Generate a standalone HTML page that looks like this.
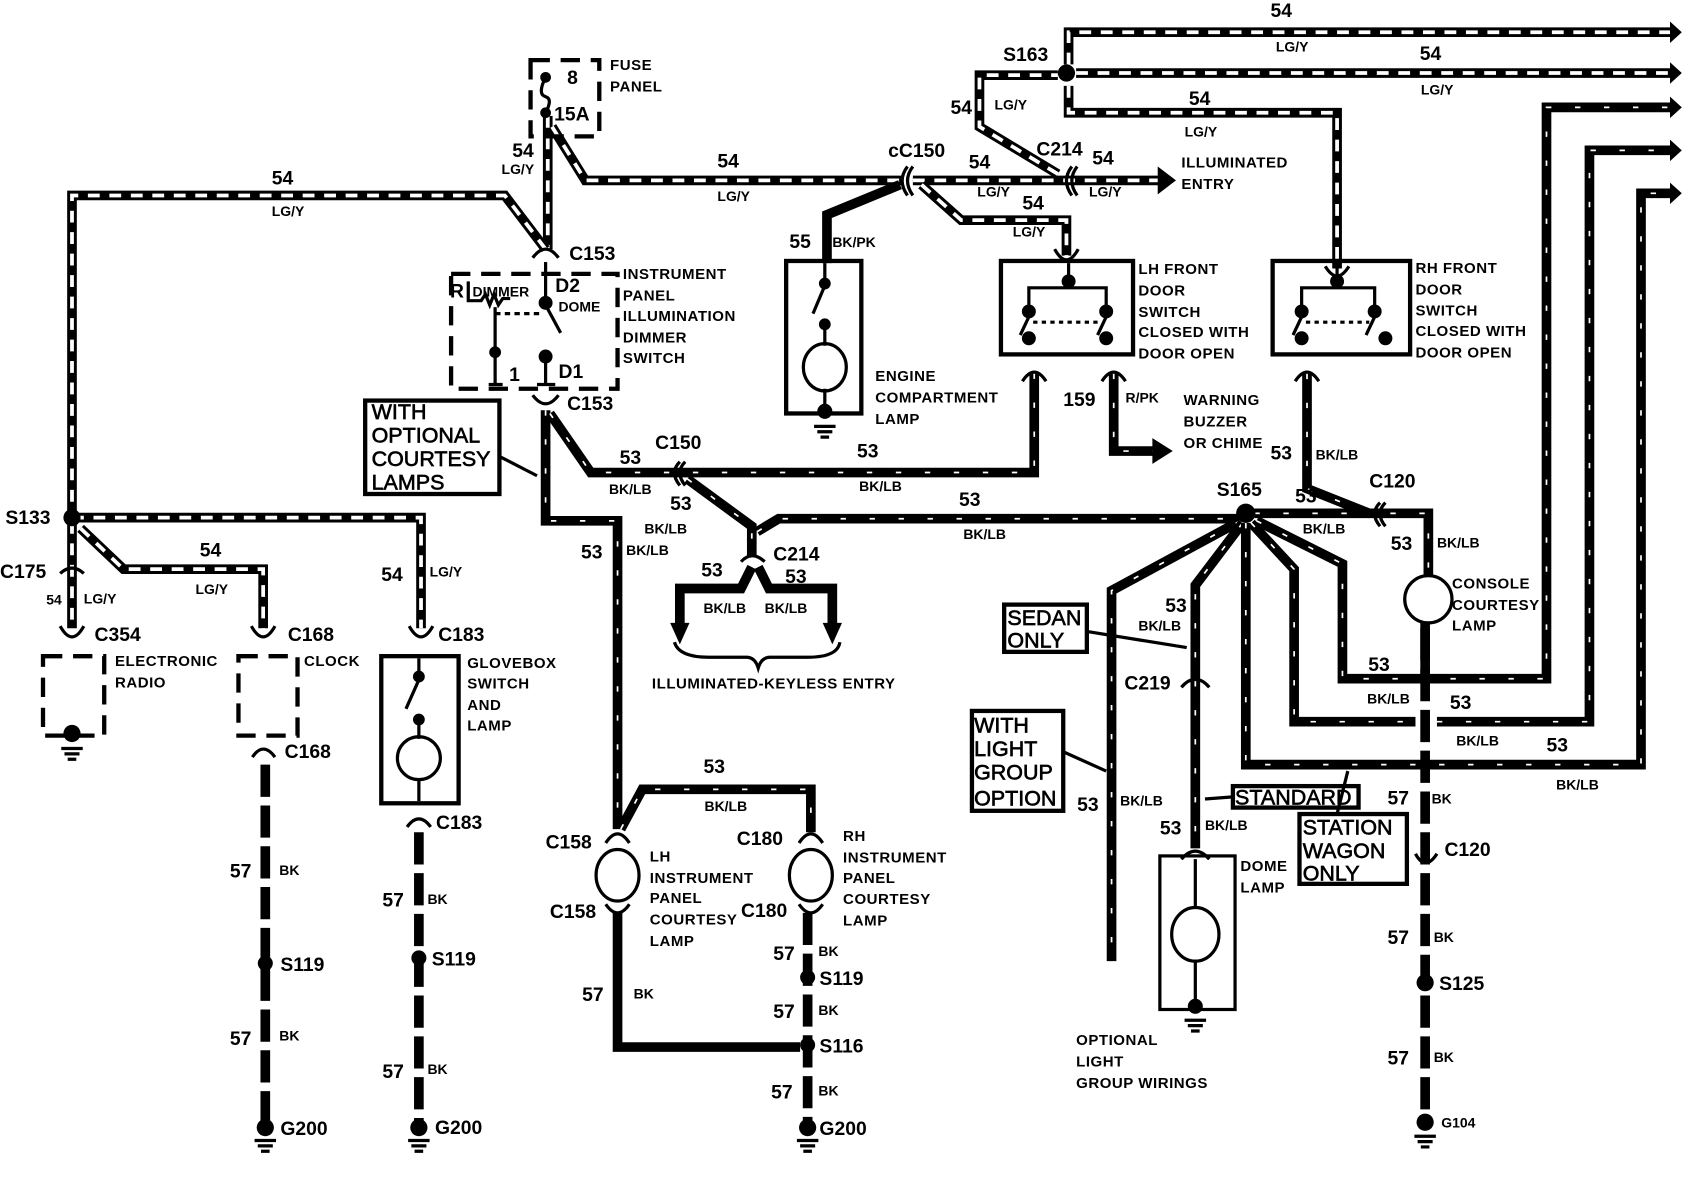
<!DOCTYPE html>
<html><head><meta charset="utf-8"><style>
html,body{margin:0;padding:0;background:#fff;}
svg{display:block;}
.w{fill:none;stroke:#000;stroke-width:9;stroke-linejoin:miter;}
.sd{fill:none;stroke:#fff;stroke-width:3.5;stroke-dasharray:11 9;}
.st{fill:none;stroke:#fff;stroke-width:1.6;stroke-dasharray:5 22;}
.bk{fill:none;stroke:#000;stroke-width:9;stroke-dasharray:30 8;}
.tn{fill:none;stroke:#000;stroke-width:3;}
.dsh{fill:none;stroke:#000;stroke-width:4;stroke-dasharray:18 10;}
.bx{fill:none;stroke:#000;stroke-width:4;}
text{font-family:"Liberation Sans",sans-serif;font-weight:bold;fill:#000;}
.n{font-size:18px;}
.s{font-size:13px;}
.l{font-size:14px;letter-spacing:0.5px;}
.b{font-size:20px;font-weight:normal;stroke:#000;stroke-width:0.6;}
.c{font-size:18px;}
</style></head><body>
<svg width="1684" height="1184" viewBox="0 0 1568 1102.5" xmlns="http://www.w3.org/2000/svg">
<defs>
<path id="p1" d="M510,108 V232"/>
<path id="p2" d="M514,118 L545,168 H840"/>
<path id="p3" d="M508,232 L470,182 H67 V480"/>
<path id="p4" d="M67,486 V585"/>
<path id="p5" d="M67,482 H392 V585"/>
<path id="p6" d="M75,492 L115,530 H245 V585"/>
<path id="p7" d="M850,168 H1080"/>
<path id="p8" d="M858,172 L895,205 H993 V238"/>
<path id="p9" d="M985,162 L912,118 V70 H985"/>
<path id="p10" d="M995,60 V30 H1560"/>
<path id="p11" d="M1002,68 H1560"/>
<path id="p12" d="M995,80 V105 H1245 V250"/>
<path id="q1" d="M508,382 V485 H575 V772"/>
<path id="q2" d="M512,385 L550,440 H963 V348"/>
<path id="q3" d="M640,446 L700,490 V518"/>
<path id="q4" d="M705,495 L725,483 H1152"/>
<path id="q5" d="M578,772 L598,735 H755 V775"/>
<path id="q6" d="M1037,348 V420 H1075"/>
<path id="q7" d="M1217,348 V455 L1275,478 H1330 V535"/>
<path id="q8" d="M1168,478 H1275"/>
<path id="q9" d="M1155,485 L1035,550 V895"/>
<path id="q10" d="M1157,487 L1113,545 V790"/>
<path id="q11" d="M1160,487 V712 H1528 V180 H1560"/>
<path id="q12" d="M1165,487 L1205,530 V672 H1318 M1338,672 H1480 V140 H1560"/>
<path id="q13" d="M1170,485 L1250,525 V632 H1440 V100 H1560"/>
<path id="q14" d="M700,528 L690,548 H633 V585 M706,528 L716,548 H775 V585"/>
</defs>
<!-- striped LG/Y wires -->
<g><use href="#p1" class="w"/><use href="#p1" class="sd"/>
<use href="#p2" class="w"/><use href="#p2" class="sd"/>
<use href="#p3" class="w"/><use href="#p3" class="sd"/>
<use href="#p4" class="w"/><use href="#p4" class="sd"/>
<use href="#p5" class="w"/><use href="#p5" class="sd"/>
<use href="#p6" class="w"/><use href="#p6" class="sd"/>
<use href="#p7" class="w"/><use href="#p7" class="sd"/>
<use href="#p8" class="w"/><use href="#p8" class="sd"/>
<use href="#p9" class="w"/><use href="#p9" class="sd"/>
<use href="#p10" class="w"/><use href="#p10" class="sd"/>
<use href="#p11" class="w"/><use href="#p11" class="sd"/>
<use href="#p12" class="w"/><use href="#p12" class="sd"/></g>
<!-- BK/LB wires -->
<g><use href="#q1" class="w"/><use href="#q1" class="st"/>
<use href="#q2" class="w"/><use href="#q2" class="st"/>
<use href="#q3" class="w"/><use href="#q3" class="st"/>
<use href="#q4" class="w"/><use href="#q4" class="st"/>
<use href="#q5" class="w"/><use href="#q5" class="st"/>
<use href="#q6" class="w"/><use href="#q6" class="st"/>
<use href="#q7" class="w"/><use href="#q7" class="st"/>
<use href="#q8" class="w"/><use href="#q8" class="st"/>
<use href="#q9" class="w"/><use href="#q9" class="st"/>
<use href="#q10" class="w"/><use href="#q10" class="st"/>
<use href="#q11" class="w"/><use href="#q11" class="st"/>
<use href="#q12" class="w"/><use href="#q12" class="st"/>
<use href="#q13" class="w"/><use href="#q13" class="st"/>
<use href="#q14" class="w"/></g>
<!-- 55 wire -->
<path class="w" d="M838,172 L770,200 V245"/>
<!-- arrowheads right -->
<g fill="#000">
<polygon points="1078,155 1095,168 1078,181"/>
<polygon points="1073,408 1092,420 1073,432"/>
<polygon points="1555,20 1566,30 1555,40"/>
<polygon points="1555,58 1566,68 1555,78"/>
<polygon points="1555,90 1566,100 1555,110"/>
<polygon points="1555,130 1566,140 1555,150"/>
<polygon points="1555,170 1566,180 1555,190"/>
<polygon points="624,580 642,580 633,600"/>
<polygon points="766,580 784,580 775,600"/>
</g>
<!-- solid BK 57 wire LH lamp -->
<path class="w" d="M575,850 V975 H745"/>
<!-- dashed BK 57 -->
<path class="bk" d="M247,712 V1045"/>
<path class="bk" d="M390,775 V1045"/>
<path class="bk" d="M752,850 V1045"/>
<path class="bk" d="M1327,585 V1040"/>
<path class="w" d="M1327,580 V630"/>
<!-- up arrow connectors -->
<g class="tn" stroke-width="4">
<path d="M235,705 Q245,690 256,705"/><path d="M379,770 Q390,755 401,770"/>
<path d="M952,355 Q963,338 974,355"/><path d="M1026,355 Q1037,338 1048,355"/><path d="M1206,355 Q1217,338 1228,355"/>
<path d="M56,583 Q67,603 78,583"/><path d="M234,583 Q245,603 256,583"/><path d="M381,583 Q392,603 403,583"/>
<path d="M982,232 Q993,252 1004,232"/><path d="M1234,248 Q1245,266 1256,248"/>
<path d="M496,240 Q508,224 520,240"/><path d="M496,368 Q508,384 520,368"/>
<path d="M564,785 Q575,768 586,785"/><path d="M744,785 Q755,768 766,785"/>
<path d="M564,842 Q575,858 586,842"/><path d="M744,842 Q755,858 766,842"/>
<path d="M1100,640 Q1113,625 1126,640"/><path d="M1100,800 Q1113,785 1126,800"/>
<path d="M1318,795 Q1327,812 1338,795"/>
<path d="M845,155 Q835,168 845,182"/><path d="M850,155 Q840,168 850,182"/>
<path d="M998,155 Q988,168 998,182"/><path d="M1003,155 Q993,168 1003,182"/>
<path d="M633,430 Q623,440 633,452"/><path d="M638,430 Q628,440 638,452"/>
<path d="M1285,468 Q1275,478 1285,490"/><path d="M1290,468 Q1280,478 1290,490"/>
<path d="M56,534 Q67,524 78,534"/><path d="M690,523 Q700,512 712,523"/>
</g>
<!-- splice dots -->
<g fill="#000">
<circle cx="67" cy="482" r="8"/><circle cx="993" cy="68" r="8"/><circle cx="1160" cy="478" r="9"/>
<circle cx="247" cy="897" r="7"/><circle cx="390" cy="892" r="7"/><circle cx="752" cy="910" r="7"/><circle cx="752" cy="973" r="7"/><circle cx="1327" cy="915" r="8"/>
<circle cx="247" cy="1050" r="8"/><circle cx="390" cy="1050" r="8"/><circle cx="752" cy="1050" r="8"/><circle cx="1327" cy="1045" r="8"/>
<circle cx="67" cy="683" r="8"/><circle cx="768" cy="383" r="7"/><circle cx="1113" cy="937" r="7"/>
<circle cx="508" cy="72" r="5"/><circle cx="508" cy="105" r="5"/>
</g>
<!-- grounds -->
<g stroke="#000" stroke-width="3">
<path d="M57,697 H77 M60,702 H74 M63,707 H71"/>
<path d="M237,1062 H257 M240,1067 H254 M243,1072 H251"/>
<path d="M380,1062 H400 M383,1067 H397 M386,1072 H394"/>
<path d="M742,1062 H762 M745,1067 H759 M748,1072 H756"/>
<path d="M1317,1058 H1337 M1320,1063 H1334 M1323,1068 H1331"/>
<path d="M758,397 H778 M761,402 H775 M764,407 H772"/>
<path d="M1103,950 H1123 M1106,955 H1120 M1109,960 H1117"/>
</g>
<!-- fuse panel -->
<rect x="494" y="56" width="64" height="71" class="dsh"/>
<path class="tn" d="M508,72 Q500,88 508,90 Q515,92 508,105"/>
<!-- dimmer switch box -->
<rect x="420" y="255" width="155" height="107" class="dsh"/>
<g class="tn">
<path d="M436,262 V280 H448 l4,-6 4,10 4,-10 4,10 4,-6 H475"/>
<path d="M461,286 V358 M455,358 H468"/><circle cx="461" cy="328" r="4" fill="#000"/>
<path d="M461,292 H505" stroke-dasharray="5 4"/>
<path d="M508,244 V280"/><circle cx="508" cy="282" r="5" fill="#000"/>
<path d="M508,284 L522,310"/><circle cx="508" cy="332" r="5" fill="#000"/><path d="M508,335 V358 M500,358 H517"/>
</g>
<!-- engine compartment lamp -->
<rect x="732" y="243" width="70" height="142" class="bx"/>
<g class="tn"><path d="M768,245 V262"/><circle cx="768" cy="264" r="4" fill="#000"/><path d="M768,266 L757,292"/><circle cx="768" cy="302" r="4" fill="#000"/><path d="M768,305 V322 M768,362 V383"/><ellipse cx="768" cy="342" rx="20" ry="22"/></g>
<!-- glovebox -->
<rect x="355" y="611" width="72" height="137" class="bx"/>
<g class="tn"><path d="M390,613 V628"/><circle cx="390" cy="630" r="4" fill="#000"/><path d="M390,633 L378,660"/><circle cx="390" cy="670" r="4" fill="#000"/><path d="M390,673 V688 M390,725 V746"/><ellipse cx="390" cy="706" rx="20" ry="20"/></g>
<!-- radio, clock dashed -->
<rect x="40" y="611" width="57" height="74" class="dsh"/>
<rect x="222" y="611" width="55" height="74" class="dsh"/>
<!-- door switches -->
<rect x="932" y="243" width="123" height="87" class="bx"/>
<rect x="1185" y="243" width="128" height="87" class="bx"/>
<g class="tn">
<path d="M995,245 V262 M958,285 V268 H1030 V285"/><circle cx="995" cy="262" r="5" fill="#000"/><circle cx="958" cy="290" r="5" fill="#000"/><circle cx="1030" cy="290" r="5" fill="#000"/><path d="M958,295 L950,312 M1030,295 L1022,312"/><path d="M962,300 H1025" stroke-dasharray="4 4"/><circle cx="958" cy="315" r="5" fill="#000"/><circle cx="1030" cy="315" r="5" fill="#000"/>
<path d="M1245,245 V262 M1212,285 V268 H1280 V285"/><circle cx="1245" cy="262" r="5" fill="#000"/><circle cx="1212" cy="290" r="5" fill="#000"/><circle cx="1280" cy="290" r="5" fill="#000"/><path d="M1212,295 L1204,312 M1280,295 L1272,312"/><path d="M1216,300 H1275" stroke-dasharray="4 4"/><circle cx="1212" cy="315" r="5" fill="#000"/><circle cx="1290" cy="315" r="5" fill="#000"/>
</g>
<!-- lamps -->
<g class="tn" stroke-width="3.5">
<ellipse cx="575" cy="815" rx="20" ry="24" fill="#fff"/><ellipse cx="755" cy="815" rx="20" ry="24" fill="#fff"/>
<ellipse cx="1330" cy="558" rx="22" ry="22" fill="#fff"/>
<ellipse cx="1113" cy="870" rx="22" ry="25"/>
<rect x="1080" y="797" width="70" height="143"/>
<path d="M1113,800 V845 M1113,895 V935"/>
</g>
<!-- brace -->
<path class="tn" d="M628,598 Q632,612 660,612 H695 Q703,612 706,622 Q709,612 717,612 H752 Q780,612 782,598"/>
<!-- note boxes -->
<g class="bx" stroke-width="2.5">
<rect x="340" y="373" width="125" height="87"/>
<rect x="935" y="563" width="77" height="44"/>
<rect x="905" y="662" width="85" height="93"/>
<rect x="1148" y="732" width="117" height="20"/>
<rect x="1210" y="758" width="100" height="65"/>
</g>
<g class="tn" stroke-width="2">
<path d="M465,425 L500,443"/><path d="M1012,588 L1105,603"/><path d="M990,700 L1030,718"/><path d="M1148,742 L1122,744"/><path d="M1245,758 L1255,718"/>
</g>
<!-- texts -->
<text class="l" x="568" y="65">FUSE</text><text class="l" x="568" y="85">PANEL</text>
<text class="n" x="528" y="78">8</text><text class="n" x="516" y="112">15A</text>
<text class="n" x="477" y="146">54</text><text class="s" x="467" y="162">LG/Y</text>
<text class="n" x="668" y="156">54</text><text class="s" x="668" y="187">LG/Y</text>
<text class="n" x="253" y="172">54</text><text class="s" x="253" y="201">LG/Y</text>
<text class="c" x="530" y="242">C153</text><text class="c" x="528" y="382">C153</text>
<text class="c" x="419" y="277" font-size="19">R</text><text class="s" x="440" y="276">DIMMER</text>
<text class="c" x="517" y="272">D2</text><text class="s" x="520" y="290">DOME</text>
<text class="c" x="474" y="355">1</text><text class="c" x="520" y="352">D1</text>
<text class="l" x="580" y="260">INSTRUMENT</text><text class="l" x="580" y="280">PANEL</text><text class="l" x="580" y="299">ILLUMINATION</text><text class="l" x="580" y="319">DIMMER</text><text class="l" x="580" y="338">SWITCH</text>
<text class="b" x="346" y="390">WITH</text><text class="b" x="346" y="412">OPTIONAL</text><text class="b" x="346" y="434">COURTESY</text><text class="b" x="346" y="456">LAMPS</text>
<text class="c" x="5" y="488">S133</text><text class="c" x="0" y="538">C175</text>
<text class="s" x="43" y="563">54</text><text class="s" x="78" y="562">LG/Y</text>
<text class="n" x="186" y="518">54</text><text class="s" x="182" y="553">LG/Y</text>
<text class="n" x="355" y="541">54</text><text class="s" x="400" y="537">LG/Y</text>
<text class="c" x="88" y="597">C354</text><text class="c" x="268" y="597">C168</text><text class="c" x="408" y="597">C183</text>
<text class="l" x="107" y="620">ELECTRONIC</text><text class="l" x="107" y="640">RADIO</text>
<text class="l" x="283" y="620">CLOCK</text>
<text class="l" x="435" y="622">GLOVEBOX</text><text class="l" x="435" y="641">SWITCH</text><text class="l" x="435" y="661">AND</text><text class="l" x="435" y="680">LAMP</text>
<text class="c" x="265" y="706">C168</text><text class="c" x="406" y="772">C183</text>
<text class="n" x="214" y="817">57</text><text class="s" x="260" y="815">BK</text>
<text class="c" x="261" y="904">S119</text>
<text class="n" x="214" y="973">57</text><text class="s" x="260" y="969">BK</text>
<text class="c" x="261" y="1057">G200</text>
<text class="n" x="356" y="844">57</text><text class="s" x="398" y="842">BK</text>
<text class="c" x="402" y="899">S119</text>
<text class="n" x="356" y="1004">57</text><text class="s" x="398" y="1000">BK</text>
<text class="c" x="405" y="1056">G200</text>
<text class="n" x="577" y="432">53</text><text class="s" x="567" y="460">BK/LB</text>
<text class="c" x="610" y="418">C150</text>
<text class="n" x="798" y="426">53</text><text class="s" x="800" y="457">BK/LB</text>
<text class="n" x="624" y="475">53</text><text class="s" x="600" y="497">BK/LB</text>
<text class="n" x="541" y="520">53</text><text class="s" x="583" y="517">BK/LB</text>
<text class="n" x="893" y="471">53</text><text class="s" x="897" y="502">BK/LB</text>
<text class="c" x="720" y="522">C214</text>
<text class="n" x="653" y="537">53</text><text class="n" x="731" y="543">53</text>
<text class="s" x="655" y="571">BK/LB</text><text class="s" x="712" y="571">BK/LB</text>
<text class="l" x="607" y="641">ILLUMINATED-KEYLESS ENTRY</text>
<text class="n" x="655" y="720">53</text><text class="s" x="656" y="755">BK/LB</text>
<text class="c" x="508" y="790">C158</text><text class="c" x="512" y="855">C158</text>
<text class="c" x="686" y="787">C180</text><text class="c" x="690" y="854">C180</text>
<text class="l" x="605" y="802">LH</text><text class="l" x="605" y="822">INSTRUMENT</text><text class="l" x="605" y="841">PANEL</text><text class="l" x="605" y="861">COURTESY</text><text class="l" x="605" y="881">LAMP</text>
<text class="l" x="785" y="783">RH</text><text class="l" x="785" y="803">INSTRUMENT</text><text class="l" x="785" y="822">PANEL</text><text class="l" x="785" y="842">COURTESY</text><text class="l" x="785" y="862">LAMP</text>
<text class="n" x="542" y="932">57</text><text class="s" x="590" y="930">BK</text>
<text class="n" x="720" y="894">57</text><text class="s" x="762" y="890">BK</text>
<text class="c" x="763" y="917">S119</text>
<text class="n" x="720" y="948">57</text><text class="s" x="762" y="945">BK</text>
<text class="c" x="763" y="980">S116</text>
<text class="n" x="718" y="1023">57</text><text class="s" x="762" y="1020">BK</text>
<text class="c" x="763" y="1057">G200</text>
<text class="n" x="735" y="231">55</text><text class="s" x="775" y="230">BK/PK</text>
<text class="l" x="815" y="355">ENGINE</text><text class="l" x="815" y="375">COMPARTMENT</text><text class="l" x="815" y="395">LAMP</text>
<text class="c" x="827" y="146">cC150</text>
<text class="n" x="902" y="157">54</text><text class="s" x="910" y="183">LG/Y</text>
<text class="c" x="965" y="145">C214</text>
<text class="n" x="1017" y="153">54</text><text class="s" x="1014" y="183">LG/Y</text>
<text class="l" x="1100" y="156">ILLUMINATED</text><text class="l" x="1100" y="176">ENTRY</text>
<text class="n" x="952" y="195">54</text><text class="s" x="943" y="220">LG/Y</text>
<text class="n" x="885" y="106">54</text><text class="s" x="926" y="102">LG/Y</text>
<text class="c" x="934" y="57">S163</text>
<text class="n" x="1183" y="16">54</text><text class="s" x="1188" y="48">LG/Y</text>
<text class="n" x="1322" y="56">54</text><text class="s" x="1323" y="88">LG/Y</text>
<text class="n" x="1107" y="98">54</text><text class="s" x="1103" y="127">LG/Y</text>
<text class="l" x="1060" y="255">LH FRONT</text><text class="l" x="1060" y="275">DOOR</text><text class="l" x="1060" y="295">SWITCH</text><text class="l" x="1060" y="314" font-weight="normal">CLOSED WITH</text><text class="l" x="1060" y="334" font-weight="normal">DOOR OPEN</text>
<text class="l" x="1318" y="254">RH FRONT</text><text class="l" x="1318" y="274">DOOR</text><text class="l" x="1318" y="294">SWITCH</text><text class="l" x="1318" y="313" font-weight="normal">CLOSED WITH</text><text class="l" x="1318" y="333" font-weight="normal">DOOR OPEN</text>
<text class="n" x="990" y="378">159</text><text class="s" x="1048" y="375">R/PK</text>
<text class="l" x="1102" y="377">WARNING</text><text class="l" x="1102" y="397">BUZZER</text><text class="l" x="1102" y="417">OR CHIME</text>
<text class="n" x="1183" y="428">53</text><text class="s" x="1225" y="428">BK/LB</text>
<text class="c" x="1133" y="462">S165</text><text class="c" x="1275" y="454">C120</text>
<text class="n" x="1206" y="468">53</text><text class="s" x="1213" y="497">BK/LB</text>
<text class="n" x="1295" y="512">53</text><text class="s" x="1338" y="510">BK/LB</text>
<text class="l" x="1352" y="548">CONSOLE</text><text class="l" x="1352" y="568">COURTESY</text><text class="l" x="1352" y="587">LAMP</text>
<text class="b" x="938" y="582">SEDAN</text><text class="b" x="938" y="603">ONLY</text>
<text class="n" x="1085" y="570">53</text><text class="s" x="1060" y="587">BK/LB</text>
<text class="c" x="1047" y="642">C219</text>
<text class="n" x="1274" y="625">53</text><text class="s" x="1273" y="655">BK/LB</text>
<text class="n" x="1350" y="660">53</text><text class="s" x="1356" y="694">BK/LB</text>
<text class="n" x="1440" y="700">53</text><text class="s" x="1449" y="735">BK/LB</text>
<text class="b" x="907" y="682">WITH</text><text class="b" x="907" y="704">LIGHT</text><text class="b" x="907" y="726">GROUP</text><text class="b" x="907" y="750">OPTION</text>
<text class="n" x="1003" y="755">53</text><text class="s" x="1043" y="750">BK/LB</text>
<text class="b" x="1150" y="749">STANDARD</text>
<text class="n" x="1080" y="777">53</text><text class="s" x="1122" y="773">BK/LB</text>
<text class="b" x="1213" y="777">STATION</text><text class="b" x="1213" y="799">WAGON</text><text class="b" x="1213" y="820">ONLY</text>
<text class="n" x="1292" y="749">57</text><text class="s" x="1333" y="748">BK</text>
<text class="c" x="1345" y="797">C120</text>
<text class="l" x="1155" y="811">DOME</text><text class="l" x="1155" y="831">LAMP</text>
<text class="n" x="1292" y="879">57</text><text class="s" x="1335" y="877">BK</text>
<text class="c" x="1340" y="922">S125</text>
<text class="n" x="1292" y="991">57</text><text class="s" x="1335" y="989">BK</text>
<text class="s" x="1342" y="1050">G104</text>
<text class="l" x="1002" y="973">OPTIONAL</text><text class="l" x="1002" y="993">LIGHT</text><text class="l" x="1002" y="1013">GROUP WIRINGS</text>
</svg>
</body></html>
